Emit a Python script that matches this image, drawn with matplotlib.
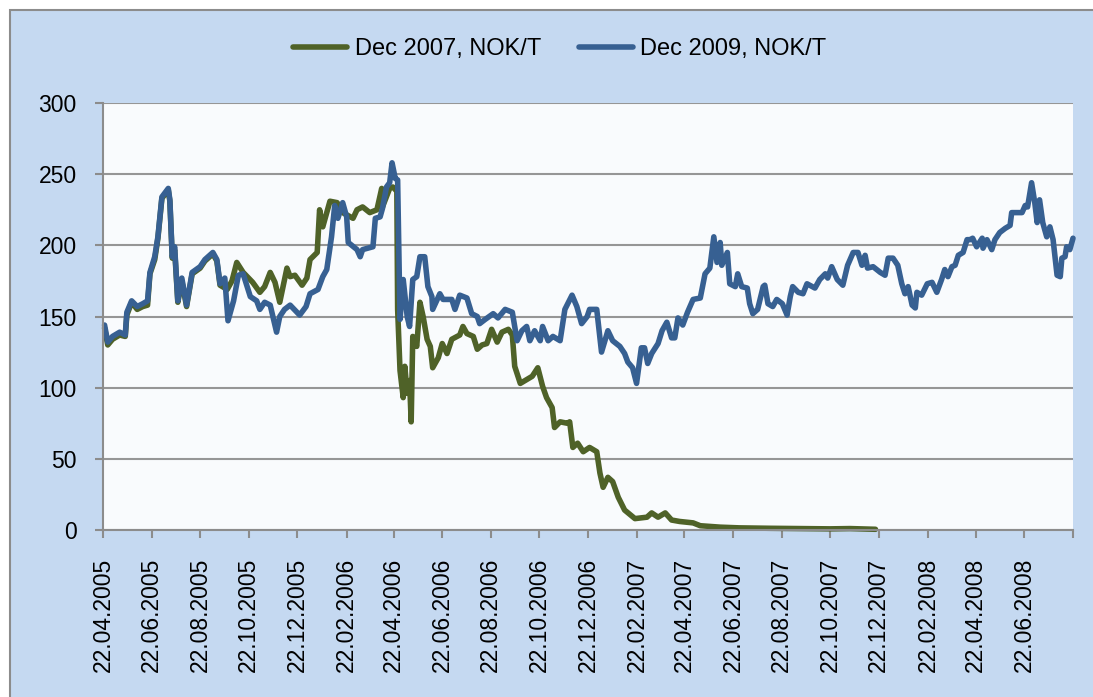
#Imports
import pandas as pd
import matplotlib
matplotlib.use('Agg')
import matplotlib.pyplot as plt
from matplotlib.patches import Rectangle


#Values, NOK/T
dec07_dates = ['2005-04-24', '2005-04-28', '2005-05-04', '2005-05-13', '2005-05-20', '2005-05-22', '2005-05-28',
               '2005-06-04', '2005-06-11', '2005-06-17', '2005-06-20', '2005-06-26', '2005-06-30', '2005-07-05',
               '2005-07-13', '2005-07-15', '2005-07-18', '2005-07-21', '2005-07-25', '2005-07-30', '2005-08-05',
               '2005-08-12', '2005-08-22', '2005-08-28', '2005-09-07', '2005-09-12', '2005-09-16', '2005-09-25',
               '2005-10-01', '2005-10-07', '2005-10-15', '2005-10-27', '2005-11-05', '2005-11-11', '2005-11-18',
               '2005-11-24', '2005-11-30', '2005-12-09', '2005-12-13', '2005-12-19', '2005-12-28', '2006-01-03',
               '2006-01-07', '2006-01-16', '2006-01-19', '2006-01-23', '2006-02-01', '2006-02-10', '2006-02-17',
               '2006-03-02', '2006-03-07', '2006-03-14', '2006-03-23', '2006-04-01', '2006-04-07', '2006-04-08',
               '2006-04-17', '2006-04-21', '2006-04-26', '2006-04-27', '2006-04-30', '2006-05-04', '2006-05-06',
               '2006-05-09', '2006-05-12', '2006-05-14', '2006-05-16', '2006-05-21', '2006-05-25', '2006-05-29',
               '2006-06-03', '2006-06-07', '2006-06-10', '2006-06-17', '2006-06-22', '2006-06-28', '2006-07-04',
               '2006-07-14', '2006-07-18', '2006-07-23', '2006-07-31', '2006-08-05', '2006-08-11', '2006-08-17',
               '2006-08-23', '2006-08-30', '2006-09-05', '2006-09-13', '2006-09-18', '2006-09-21', '2006-09-28',
               '2006-10-04', '2006-10-13', '2006-10-20', '2006-10-26', '2006-10-31', '2006-11-07', '2006-11-10',
               '2006-11-17', '2006-11-26', '2006-11-29', '2006-12-03', '2006-12-09', '2006-12-16', '2006-12-24',
               '2007-01-02', '2007-01-06', '2007-01-10', '2007-01-16', '2007-01-22', '2007-01-29', '2007-02-06',
               '2007-02-19', '2007-03-06', '2007-03-12', '2007-03-20', '2007-03-29', '2007-04-06', '2007-04-16',
               '2007-05-03', '2007-05-12', '2007-06-06', '2007-06-30', '2007-08-08', '2007-09-14', '2007-10-22',
               '2007-11-16', '2007-12-05', '2007-12-18']
dec07_values = [142, 130, 134, 137, 136, 151, 160,
                155, 157, 158, 180, 190, 205, 233,
                239, 231, 191, 197, 160, 175, 157,
                180, 184, 189, 194, 189, 172, 169,
                175, 188, 181, 174, 167, 171, 181,
                174, 160, 184, 178, 179, 172, 177,
                190, 195, 225, 213, 231, 230, 223,
                219, 225, 227, 223, 225, 240, 227,
                240, 241, 238, 155, 112, 93, 115,
                96, 105, 76, 136, 129, 160, 150,
                134, 129, 114, 121, 131, 124, 134,
                137, 143, 138, 136, 127, 130, 131,
                141, 132, 139, 141, 137, 115, 103,
                105, 108, 114, 101, 93, 86, 72,
                76, 75, 76, 58, 61, 55, 58,
                55, 40, 30, 37, 34, 23, 14,
                8, 9, 12, 9, 12, 7, 6,
                5, 3, 2, 1.5, 1.2, 1, 0.8,
                1, 0.7, 0.5]

dec09_dates = ['2005-04-24', '2005-04-28', '2005-05-04', '2005-05-13', '2005-05-20', '2005-05-22', '2005-05-28',
               '2005-06-04', '2005-06-11', '2005-06-17', '2005-06-20', '2005-06-26', '2005-06-30', '2005-07-05',
               '2005-07-13', '2005-07-15', '2005-07-18', '2005-07-21', '2005-07-25', '2005-07-30', '2005-08-05',
               '2005-08-12', '2005-08-22', '2005-08-28', '2005-09-07', '2005-09-12', '2005-09-16', '2005-09-22',
               '2005-09-26', '2005-10-03', '2005-10-09', '2005-10-15', '2005-10-24', '2005-11-01', '2005-11-05',
               '2005-11-11', '2005-11-18', '2005-11-26', '2005-11-30', '2005-12-06', '2005-12-13', '2005-12-25',
               '2006-01-02', '2006-01-07', '2006-01-17', '2006-01-23', '2006-01-28', '2006-02-03', '2006-02-07',
               '2006-02-11', '2006-02-17', '2006-02-22', '2006-02-24', '2006-03-07', '2006-03-11', '2006-03-14',
               '2006-03-27', '2006-03-30', '2006-04-05', '2006-04-08', '2006-04-13', '2006-04-17', '2006-04-20',
               '2006-04-24', '2006-04-27', '2006-04-30', '2006-05-04', '2006-05-09', '2006-05-12', '2006-05-16',
               '2006-05-21', '2006-05-25', '2006-05-31', '2006-06-04', '2006-06-09', '2006-06-10', '2006-06-19',
               '2006-06-23', '2006-07-04', '2006-07-08', '2006-07-14', '2006-07-23', '2006-07-29', '2006-08-05',
               '2006-08-08', '2006-08-15', '2006-08-25', '2006-08-31', '2006-09-09', '2006-09-18', '2006-09-24',
               '2006-09-30', '2006-10-06', '2006-10-10', '2006-10-16', '2006-10-23', '2006-10-26', '2006-11-02',
               '2006-11-08', '2006-11-17', '2006-11-23', '2006-12-02', '2006-12-08', '2006-12-14', '2006-12-21',
               '2006-12-24', '2007-01-02', '2007-01-08', '2007-01-16', '2007-01-22', '2007-01-31', '2007-02-06',
               '2007-02-10', '2007-02-16', '2007-02-21', '2007-02-27', '2007-03-03', '2007-03-07', '2007-03-12',
               '2007-03-20', '2007-03-25', '2007-03-31', '2007-04-06', '2007-04-10', '2007-04-14', '2007-04-20',
               '2007-04-26', '2007-05-03', '2007-05-12', '2007-05-18', '2007-05-24', '2007-05-27', '2007-05-29',
               '2007-06-02', '2007-06-06', '2007-06-08', '2007-06-15', '2007-06-18', '2007-06-25', '2007-06-28',
               '2007-07-03', '2007-07-10', '2007-07-13', '2007-07-17', '2007-07-23', '2007-07-30', '2007-08-01',
               '2007-08-05', '2007-08-11', '2007-08-16', '2007-08-23', '2007-08-29', '2007-09-02', '2007-09-05',
               '2007-09-12', '2007-09-18', '2007-09-23', '2007-10-03', '2007-10-09', '2007-10-16', '2007-10-19',
               '2007-10-24', '2007-10-31', '2007-11-07', '2007-11-13', '2007-11-20', '2007-11-26', '2007-12-01',
               '2007-12-05', '2007-12-08', '2007-12-15', '2007-12-24', '2007-12-30', '2008-01-03', '2008-01-09',
               '2008-01-15', '2008-01-20', '2008-01-24', '2008-01-28', '2008-02-02', '2008-02-06', '2008-02-08',
               '2008-02-14', '2008-02-21', '2008-02-27', '2008-03-04', '2008-03-10', '2008-03-14', '2008-03-18',
               '2008-03-23', '2008-03-27', '2008-03-31', '2008-04-06', '2008-04-11', '2008-04-15', '2008-04-18',
               '2008-04-23', '2008-04-30', '2008-05-01', '2008-05-06', '2008-05-12', '2008-05-16', '2008-05-22',
               '2008-05-29', '2008-06-04', '2008-06-06', '2008-06-13', '2008-06-19', '2008-06-23', '2008-06-26',
               '2008-07-01', '2008-07-05', '2008-07-08', '2008-07-11', '2008-07-15', '2008-07-20', '2008-07-24',
               '2008-07-28', '2008-08-02', '2008-08-06', '2008-08-08', '2008-08-12', '2008-08-14', '2008-08-18',
               '2008-08-22']
dec09_values = [144, 132, 136, 139, 137, 153, 161,
                157, 159, 161, 181, 192, 206, 234,
                240, 232, 192, 199, 161, 177, 158,
                181, 185, 190, 195, 190, 173, 177,
                147, 161, 179, 180, 164, 161, 155,
                160, 158, 139, 150, 155, 158, 151,
                157, 166, 169, 178, 183, 206, 228,
                219, 230, 220, 202, 197, 192, 197,
                199, 219, 220, 226, 241, 244, 258,
                247, 246, 148, 176, 150, 143, 176,
                178, 192, 192, 171, 164, 155, 166,
                162, 162, 155, 165, 163, 152, 150,
                145, 148, 152, 149, 155, 153, 133,
                140, 143, 133, 140, 133, 143, 133,
                136, 133, 155, 165, 157, 145, 150,
                155, 155, 125, 140, 133, 129, 124,
                118, 114, 103, 128, 128, 117, 124,
                131, 140, 146, 135, 135, 149, 144,
                153, 162, 163, 180, 184, 197, 206,
                188, 202, 186, 195, 173, 171, 180,
                171, 170, 159, 152, 155, 171, 172,
                159, 157, 162, 159, 151, 164, 171,
                167, 166, 173, 170, 176, 180, 177,
                185, 176, 172, 186, 195, 195, 186,
                193, 184, 185, 181, 179, 191, 191,
                186, 173, 166, 171, 158, 156, 167,
                165, 173, 174, 167, 176, 183, 178,
                185, 186, 193, 195, 204, 204, 205,
                199, 205, 198, 204, 197, 204, 209,
                212, 214, 223, 223, 223, 228, 227,
                244, 230, 216, 232, 216, 206, 213,
                204, 179, 178, 191, 192, 199, 197,
                205]

tick_labels = ['22.04.2005', '22.06.2005', '22.08.2005', '22.10.2005', '22.12.2005',
               '22.02.2006', '22.04.2006', '22.06.2006', '22.08.2006', '22.10.2006', '22.12.2006',
               '22.02.2007', '22.04.2007', '22.06.2007', '22.08.2007', '22.10.2007', '22.12.2007',
               '22.02.2008', '22.04.2008', '22.06.2008']
axis_end = '22.08.2008'


#Figure with the light blue chart area and grey frame
fig = plt.figure(figsize=(10.93, 6.97), dpi=100)
fig.patches.append(Rectangle((10/1093, -0.01), 1.0, 1 - 10/697 + 0.01, transform=fig.transFigure,
                             facecolor='#C5D9F1', edgecolor='#8C8C8C', lw=1.5, zorder=-10))

ax = fig.add_axes([0.0942, 0.2396, 0.8875, 0.6126])
ax.set_zorder(1)
ax.set_facecolor('#F9FBFD')

ax.plot(pd.to_datetime(dec07_dates), dec07_values, color='#4F6228', lw=4,
        solid_joinstyle='round', solid_capstyle='round', label='Dec 2007, NOK/T', clip_on=False)
ax.plot(pd.to_datetime(dec09_dates), dec09_values, color='#376092', lw=4,
        solid_joinstyle='round', solid_capstyle='round', label='Dec 2009, NOK/T', clip_on=False)

#Axes
ax.set_ylim(0, 300)
ax.set_yticks(range(0, 301, 50))
ticks = pd.to_datetime(tick_labels + [axis_end], format='%d.%m.%Y')
ax.set_xlim(ticks[0], ticks[-1])
ax.set_xticks(ticks)
ax.set_xticklabels(tick_labels + [''], rotation=90)

ax.grid(axis='y', color='#969696', lw=1.5)
ax.set_axisbelow(True)
for side in ['top', 'right']:
    ax.spines[side].set_visible(False)
for side in ['left', 'bottom']:
    ax.spines[side].set_color('#8C8C8C')
    ax.spines[side].set_linewidth(1.5)

tick_font = 'Liberation Sans'
ax.tick_params(axis='both', direction='out', length=6, width=1.5, color='#8C8C8C', labelsize=16.5)
ax.tick_params(axis='y', pad=13)
ax.tick_params(axis='x', pad=14)
for lbl in ax.get_xticklabels() + ax.get_yticklabels():
    lbl.set_fontfamily(tick_font)

#Legend on top
fig.legend(loc='center', bbox_to_anchor=(0.512, 0.93), ncol=2, frameon=False,
           prop={'family': 'Liberation Sans', 'size': 17},
           handlelength=2.3, handletextpad=0.3, columnspacing=1.6)

plt.savefig('out.png', dpi=100)
